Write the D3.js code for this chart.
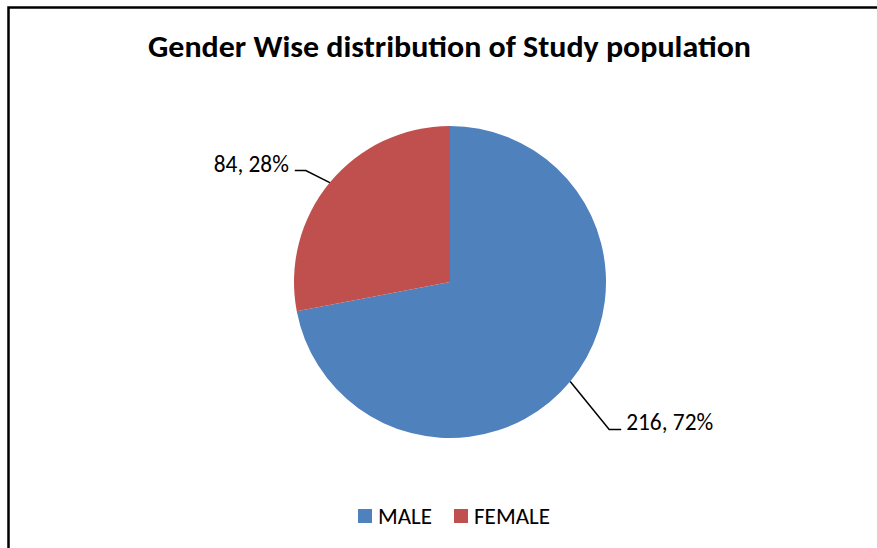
<!DOCTYPE html>
<html>
<head>
<meta charset="utf-8">
<script src="https://cdn.jsdelivr.net/npm/d3@7"></script>
<style>
  body { margin: 0; background: #fff; }
  svg { display: block; }
</style>
</head>
<body>
<div id="chart"></div>
<script>
// chart data
var categories = ["MALE", "FEMALE"];
var counts = [216, 84];
var percents = [72, 28];
var colors = ["#4F81BD", "#C0504D"];
var title = "Gender Wise distribution of Study population";

var width = 877, height = 548;
var font = "Carlito, Lato, 'Liberation Sans', sans-serif";

var svg = d3.select("#chart")
  .append("svg")
  .attr("width", width)
  .attr("height", height);

// outer frame (runs past right / bottom edge like the screenshot)
svg.append("rect")
  .attr("x", 8.5)
  .attr("y", 7.5)
  .attr("width", 900)
  .attr("height", 600)
  .attr("fill", "none")
  .attr("stroke", "#000")
  .attr("stroke-width", 2.5);

svg.append("text")
  .attr("x", 449.5)
  .attr("y", 57)
  .attr("text-anchor", "middle")
  .attr("font-family", font)
  .attr("font-weight", "bold")
  .attr("font-size", 30)
  .attr("textLength", 603)
  .attr("lengthAdjust", "spacingAndGlyphs")
  .attr("fill", "#000")
  .text(title);

var cx = 450, cy = 282, radius = 156;

var data = categories.map(function (c, i) {
  return { name: c, value: counts[i], pct: percents[i], color: colors[i] };
});

var pie = d3.pie().sort(null).value(function (d) { return d.value; });
var arc = d3.arc().innerRadius(0).outerRadius(radius);
var arcs = pie(data);

var g = svg.append("g").attr("transform", "translate(" + cx + "," + cy + ")");

g.selectAll("path.slice")
  .data(arcs)
  .join("path")
  .attr("class", "slice")
  .attr("d", arc)
  .attr("fill", function (d) { return d.data.color; });

// leader lines + data labels
// elbow offsets from slice edge, horizontal tail, text width
var labelLayout = {
  MALE:   { dx: 39, dy: 48, tail: 12, textW: 87, gap: 5 },
  FEMALE: { dx: -24, dy: -12, tail: -11, textW: 75, gap: 6 }
};

arcs.forEach(function (d) {
  var mid = (d.startAngle + d.endAngle) / 2;
  var ex = Math.sin(mid) * radius;
  var ey = -Math.cos(mid) * radius;
  var L = labelLayout[d.data.name];
  var bx = ex + L.dx, by = ey + L.dy;
  var tx = bx + L.tail;

  g.append("polyline")
    .attr("points", [[ex, ey], [bx, by], [tx, by]].map(function (p) { return p.join(","); }).join(" "))
    .attr("fill", "none")
    .attr("stroke", "#000")
    .attr("stroke-width", 1.5);

  var right = L.tail > 0;
  g.append("text")
    .attr("x", right ? tx + L.gap : tx - L.gap)
    .attr("y", by + 1)
    .attr("text-anchor", right ? "start" : "end")
    .attr("font-family", font)
    .attr("font-size", 25)
    .attr("textLength", L.textW)
    .attr("lengthAdjust", "spacingAndGlyphs")
    .attr("fill", "#000")
    .text(d.data.value + ", " + d.data.pct + "%");
});

// legend
var legendX = d3.scaleOrdinal().domain(categories).range([358, 454]);
var legendTextW = { MALE: 54, FEMALE: 76 };

var legend = svg.append("g");
var items = legend.selectAll("g")
  .data(data)
  .join("g")
  .attr("transform", function (d) { return "translate(" + legendX(d.name) + ",509)"; });

items.append("rect")
  .attr("width", 14)
  .attr("height", 14)
  .attr("fill", function (d) { return d.color; });

items.append("text")
  .attr("x", 20)
  .attr("y", 15)
  .attr("font-family", font)
  .attr("font-size", 22)
  .attr("textLength", function (d) { return legendTextW[d.name]; })
  .attr("lengthAdjust", "spacingAndGlyphs")
  .attr("fill", "#000")
  .text(function (d) { return d.name; });
</script>
</body>
</html>
